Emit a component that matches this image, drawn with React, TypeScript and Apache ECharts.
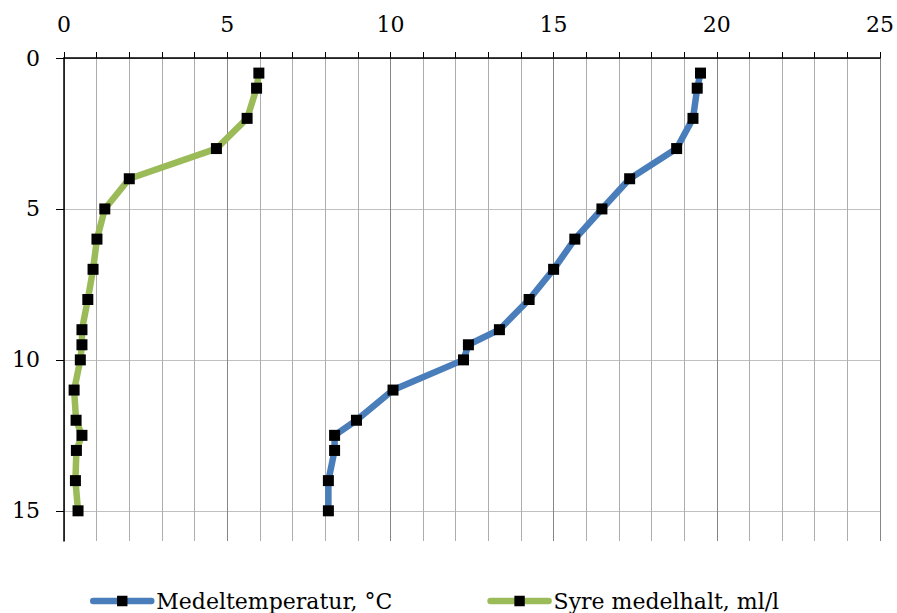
import React, { useEffect, useRef } from "react";
import * as echarts from "echarts";

const depths = [0.5, 1, 2, 3, 4, 5, 6, 7, 8, 9, 9.5, 10, 11, 12, 12.5, 13, 14, 15];
const temperature = [19.5, 19.4, 19.27, 18.77, 17.33, 16.48, 15.65, 15.0, 14.25, 13.34, 12.39, 12.24, 10.08, 8.96, 8.29, 8.29, 8.1, 8.1];
const oxygen = [5.97, 5.9, 5.61, 4.67, 2.0, 1.25, 1.01, 0.89, 0.73, 0.55, 0.55, 0.5, 0.31, 0.37, 0.55, 0.38, 0.35, 0.43];
const seriesNames = ["Medeltemperatur, °C", "Syre medelhalt, ml/l"];
const yMajorTicks = [0, 5, 10, 15];

export default function App() {
  const ref = useRef<HTMLDivElement>(null);
  useEffect(() => {
    if (!ref.current) return;
    const chart = echarts.init(ref.current, null, { renderer: "svg" });
    const font = "DejaVu Serif";
    const major = "#868686";
    const minor = "#c0c0c0";
    const gridColors = [major, minor, minor, minor, minor];
    const mk = (name: string, xs: number[], color: string) => ({
      name,
      type: "line",
      data: xs.map((x, i) => [x, depths[i]]),
      symbol: "rect",
      symbolSize: 11,
      itemStyle: { color: "#000" },
      lineStyle: { color, width: 6.5, join: "round" },
      z: 3,
    });
    chart.setOption({
      animation: false,
      backgroundColor: "#fff",
      textStyle: { fontFamily: font },
      grid: { left: 64, right: 16, top: 58, bottom: 72, containLabel: false },
      xAxis: {
        type: "value",
        position: "top",
        min: 0,
        max: 25,
        interval: 5,
        axisLine: { onZero: false, lineStyle: { color: "#000", width: 1.5 } },
        axisTick: { show: true, length: 6, lineStyle: { color: "#000", width: 1 } },
        minorTick: { show: true, splitNumber: 5, length: 6, lineStyle: { color: "#000", width: 1 } },
        axisLabel: {
          color: "#000",
          fontFamily: font,
          fontSize: 22,
          margin: 23,
        },
        splitLine: { show: true, lineStyle: { color: major, width: 1 } },
        minorSplitLine: { show: true, lineStyle: { color: "#adadad", width: 1 } },
      },
      yAxis: {
        type: "value",
        inverse: true,
        min: 0,
        max: 16,
        interval: 1,
        axisLine: { onZero: false, lineStyle: { color: "#000", width: 1.5 } },
        axisTick: { show: true, length: 8, customValues: yMajorTicks, lineStyle: { color: "#000", width: 1 } },
        axisLabel: {
          color: "#000",
          fontFamily: font,
          fontSize: 22,
          margin: 24,
          formatter: (v: number) => (yMajorTicks.includes(v) ? String(v) : ""),
        },
        splitLine: { show: true, lineStyle: { color: gridColors, width: 1 } },
      },
      legend: {
        show: true,
        left: 85,
        top: 585,
        itemWidth: 58,
        itemHeight: 13,
        itemGap: 95,
        lineStyle: { width: 6.5, cap: "round" },
        textStyle: { color: "#000", fontFamily: font, fontSize: 22 },
        data: seriesNames,
      },
      series: [
        mk(seriesNames[0], temperature, "#4a7ebb"),
        mk(seriesNames[1], oxygen, "#9bbb59"),
      ],
    });
    return () => chart.dispose();
  }, []);
  return (
    <div
      ref={ref}
      style={{ position: "fixed", left: 0, top: 0, width: 897, height: 613 }}
    />
  );
}
